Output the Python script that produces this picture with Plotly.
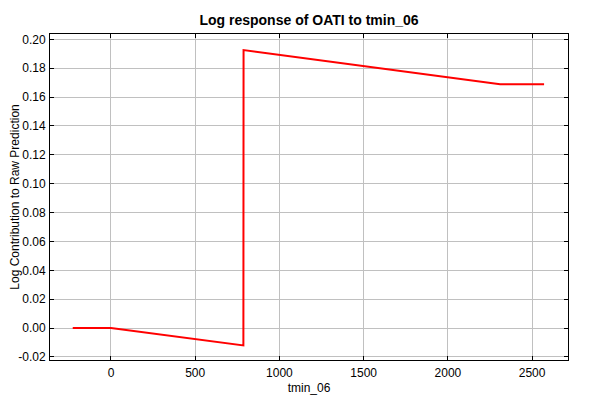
import plotly.graph_objects as go

tmin_06 = [-227, 0, 786, 787, 2310, 2571]
log_contribution = [0.0, 0.0, -0.0120, 0.1926, 0.1689, 0.1689]

y_ticks = [-0.02, 0.0, 0.02, 0.04, 0.06, 0.08, 0.10, 0.12, 0.14, 0.16, 0.18, 0.20]
y_tick_labels = ["-0.02", "0.00", "0.02", "0.04", "0.06", "0.08", "0.10", "0.12", "0.14", "0.16", "0.18", "0.20"]
x_ticks = [0, 500, 1000, 1500, 2000, 2500]

fig = go.Figure()
fig.add_trace(go.Scatter(x=tmin_06, y=log_contribution, mode="lines",
                         line=dict(color="#ff0000", width=2), showlegend=False))

# The page body adds an 8px offset; figure size and margins account for it.
axis_font = dict(family="Liberation Sans, Arial, sans-serif", size=12, color="#000000")
fig.update_layout(
    width=592, height=392,
    margin=dict(l=42, r=32, t=26, b=40),
    paper_bgcolor="white", plot_bgcolor="white",
    title=dict(text="<b>Log response of OATI to tmin_06</b>", x=(309 - 8) / 592, xanchor="center",
               y=1 - 12/392, yanchor="middle",
               font=dict(family="Liberation Sans, Arial, sans-serif", size=14, color="#000000")),
    xaxis=dict(range=[-362, 2713], tickvals=x_ticks, showgrid=True, gridcolor="#c0c0c0",
               gridwidth=1, zeroline=False, showline=True, linecolor="#000000", linewidth=1,
               mirror="ticks", ticks="inside", ticklen=4, tickcolor="#000000",
               tickfont=axis_font, automargin=False, ticklabelstandoff=2,
               title=dict(text="tmin_06", font=axis_font, standoff=4)),
    yaxis=dict(range=[-0.0221, 0.2037], tickvals=y_ticks, ticktext=y_tick_labels,
               showgrid=True, gridcolor="#c0c0c0", gridwidth=1, zeroline=False,
               showline=True, linecolor="#000000", linewidth=1, mirror="ticks",
               ticks="inside", ticklen=4, tickcolor="#000000", tickfont=axis_font,
               automargin=False, ticklabelstandoff=1,
               title=dict(text="Log Contribution to Raw Prediction", font=axis_font, standoff=4)),
)

fig.write_html("out.html")
